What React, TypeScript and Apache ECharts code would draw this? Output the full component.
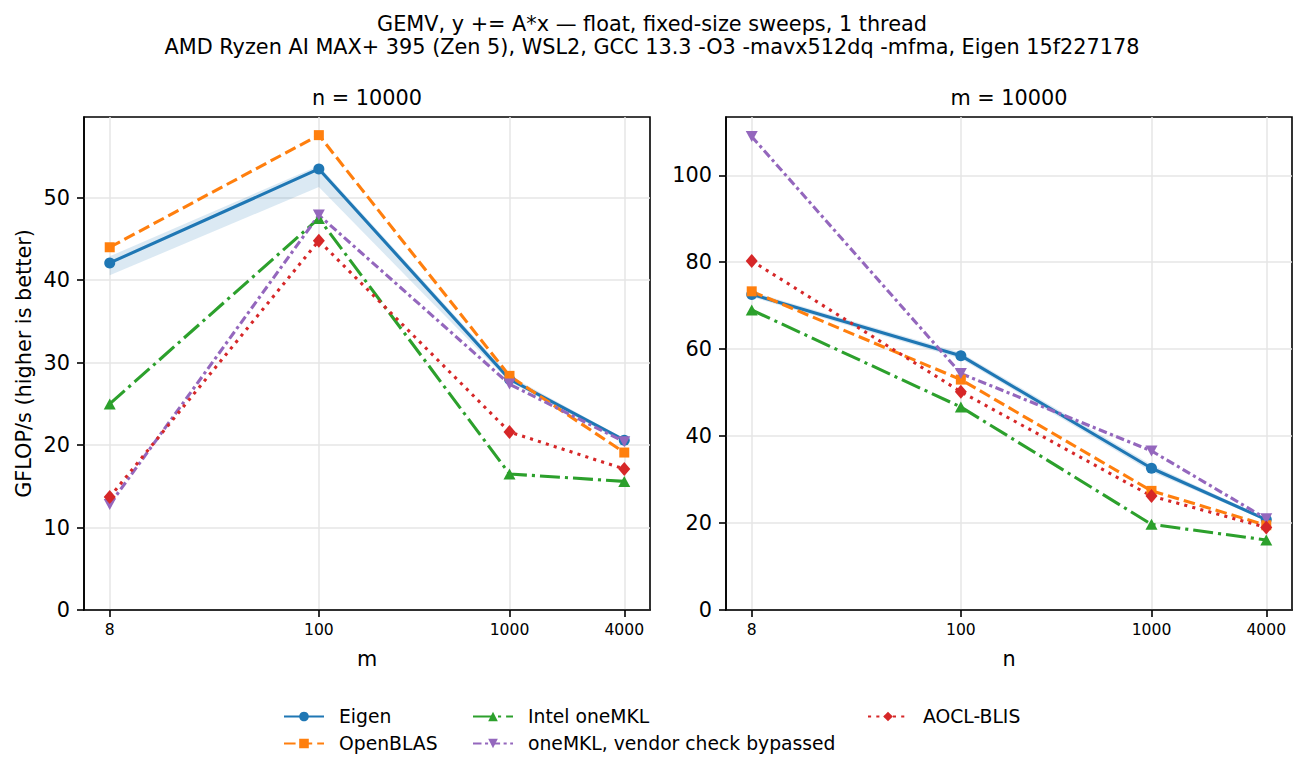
import React, { useEffect, useRef } from "react";
import * as echarts from "echarts";

// ---------- data ----------
const sizes = [8, 100, 1000, 4000];
const xTicks = [8, 100, 1000, 4000];
const seriesNames = [
  "Eigen",
  "OpenBLAS",
  "Intel oneMKL",
  "oneMKL, vendor check bypassed",
  "AOCL-BLIS",
];

// left panel: n = 10000, sweep over m
const eigenL = [42.1, 53.5, 28.0, 20.6];
const openblasL = [44.0, 57.6, 28.4, 19.1];
const mklL = [25.0, 47.5, 16.5, 15.6];
const mklBypassL = [12.8, 47.9, 27.4, 20.4];
const aoclL = [13.7, 44.8, 21.6, 17.1];
const eigenLoL = [40.6, 51.3, 27.7, 20.3];
const eigenHiL = [42.9, 53.9, 28.4, 20.8];

// right panel: m = 10000, sweep over n
const eigenR = [72.6, 58.5, 32.6, 20.8];
const openblasR = [73.3, 53.0, 27.4, 19.5];
const mklR = [69.0, 46.7, 19.7, 16.1];
const mklBypassR = [108.9, 54.4, 36.6, 21.0];
const aoclR = [80.3, 50.2, 26.2, 19.0];
const eigenLoR = [72.0, 57.8, 31.8, 20.5];
const eigenHiR = [73.2, 59.2, 33.4, 21.1];

const yTicksL = [0, 10, 20, 30, 40, 50];
const yTicksR = [0, 20, 40, 60, 80, 100];

const titleLine1 = "GEMV, y += A*x — float, fixed-size sweeps, 1 thread";
const titleLine2 =
  "AMD Ryzen AI MAX+ 395 (Zen 5), WSL2, GCC 13.3 -O3 -mavx512dq -mfma, Eigen 15f227178";

// ---------- styling ----------
const FONT = "DejaVu Sans";
const styles: any[] = [
  { color: "#1f77b4", symbol: "circle", size: 11, type: "solid", rotate: 0 },
  { color: "#ff7f0e", symbol: "rect", size: 10, type: [11.6, 5], rotate: 0 },
  { color: "#2ca02c", symbol: "triangle", size: [12, 11], type: [20, 5, 3.1, 5], rotate: 0 },
  { color: "#9467bd", symbol: "triangle", size: [12, 11], type: [8.5, 3.5, 3.1, 3.5], rotate: 180 },
  { color: "#d62728", symbol: "diamond", size: [12, 14], type: [3.1, 5.2], rotate: 0 },
];

const LW = 3.1;
const xMin = 8 / Math.pow(10, 0.05 * Math.log10(4000 / 8));
const xMax = 4000 * Math.pow(10, 0.05 * Math.log10(4000 / 8));

function buildOption() {
  const leftData = [eigenL, openblasL, mklL, mklBypassL, aoclL];
  const rightData = [eigenR, openblasR, mklR, mklBypassR, aoclR];

  const xAxisCfg = (gridIndex: number, name: string) => ({
    type: "log",
    logBase: 10,
    gridIndex,
    min: xMin,
    max: xMax,
    name,
    nameLocation: "middle",
    nameGap: 38,
    nameTextStyle: { fontFamily: FONT, fontSize: 20.8, color: "#000" },
    axisLine: { show: true, onZero: false, lineStyle: { color: "#000", width: 1.6 } },
    axisTick: { show: true, length: 7, lineStyle: { color: "#000", width: 1.6 }, customValues: xTicks },
    axisLabel: {
      customValues: xTicks,
      margin: 12,
      fontFamily: FONT,
      fontSize: 15.6,
      color: "#000",
      formatter: (v: number) => String(Math.round(v)),
    },
    minorTick: { show: false },
    minorSplitLine: { show: false },
    splitLine: { show: true, lineStyle: { color: "#e6e6e6", width: 1.5 } },
  });

  const yAxisCfg = (gridIndex: number, max: number, interval: number, ticks: number[], name?: string) => ({
    type: "value",
    gridIndex,
    min: 0,
    max,
    interval,
    name: name || "",
    nameLocation: "middle",
    nameGap: 50,
    nameTextStyle: { fontFamily: FONT, fontSize: 20.8, color: "#000" },
    axisLine: { show: true, lineStyle: { color: "#000", width: 1.6 } },
    axisTick: { show: true, length: 7, lineStyle: { color: "#000", width: 1.6 }, customValues: ticks },
    axisLabel: { customValues: ticks, margin: 14, fontFamily: FONT, fontSize: 20.8, color: "#000" },
    splitLine: { show: true, lineStyle: { color: "#e6e6e6", width: 1.5 } },
  });

  const series: any[] = [];
  const addBand = (idx: number, lo: number[], hi: number[]) => {
    series.push({
      type: "custom",
      name: "_band" + idx,
      xAxisIndex: idx,
      yAxisIndex: idx,
      silent: true,
      z: 1,
      data: sizes.map((s, i) => [s, lo[i], hi[i]]),
      encode: { x: 0, y: [1, 2] },
      renderItem: (params: any, api: any) => {
        if (params.dataIndex !== 0) return null;
        const upper = sizes.map((s, i) => api.coord([s, hi[i]]));
        const lower = sizes.map((s, i) => api.coord([s, lo[i]])).reverse();
        return {
          type: "polygon",
          shape: { points: upper.concat(lower) },
          style: { fill: "rgba(31,119,180,0.16)", stroke: "none" },
        };
      },
    });
  };
  addBand(0, eigenLoL, eigenHiL);
  addBand(1, eigenLoR, eigenHiR);

  const addLines = (idx: number, arrs: number[][]) => {
    arrs.forEach((vals, k) => {
      const st = styles[k];
      series.push({
        type: "line",
        name: seriesNames[k],
        xAxisIndex: idx,
        yAxisIndex: idx,
        data: sizes.map((s, i) => [s, vals[i]]),
        symbol: st.symbol,
        symbolSize: st.size,
        symbolRotate: st.rotate,
        showSymbol: true,
        showAllSymbol: true,
        lineStyle: { color: st.color, width: LW, type: st.type },
        itemStyle: { color: st.color },
        z: 3,
      });
    });
  };
  addLines(0, leftData);
  addLines(1, rightData);

  const legendBase = {
    orient: "vertical",
    top: 706.5,
    padding: 0,
    itemWidth: 40,
    itemHeight: 12,
    itemGap: 7,
    selectedMode: false,
    textStyle: { fontFamily: FONT, fontSize: 18.75, color: "#000", lineHeight: 20, padding: [0, 0, 0, 10] },
  };

  return {
    animation: false,
    backgroundColor: "#fff",
    title: {
      text: titleLine1 + "\n" + titleLine2,
      left: "center",
      top: 12.5,
      padding: 0,
      textStyle: { fontFamily: FONT, fontSize: 20.8, fontWeight: "normal", color: "#000", lineHeight: 23 },
    },
    graphic: [
      {
        type: "text",
        x: 367,
        y: 98,
        style: { text: "n = 10000", font: `20.8px '${FONT}'`, fill: "#000", textAlign: "center", textVerticalAlign: "middle" },
      },
      {
        type: "text",
        x: 1009,
        y: 98,
        style: { text: "m = 10000", font: `20.8px '${FONT}'`, fill: "#000", textAlign: "center", textVerticalAlign: "middle" },
      },
    ],
    legend: [
      { ...legendBase, left: 283, data: [seriesNames[0], seriesNames[1]] },
      { ...legendBase, left: 472, data: [seriesNames[2], seriesNames[3]] },
      { ...legendBase, left: 867, data: [seriesNames[4]] },
    ],
    grid: [
      { left: 84, top: 117, width: 566, height: 493, show: true, borderColor: "#000", borderWidth: 1.6, backgroundColor: "transparent" },
      { left: 726, top: 117, width: 566, height: 493, show: true, borderColor: "#000", borderWidth: 1.6, backgroundColor: "transparent" },
    ],
    xAxis: [xAxisCfg(0, "m"), xAxisCfg(1, "n")],
    yAxis: [
      yAxisCfg(0, 59.8, 10, yTicksL, "GFLOP/s (higher is better)"),
      yAxisCfg(1, 113.4, 20, yTicksR),
    ],
    series,
  };
}

export default function App() {
  const ref = useRef<HTMLDivElement>(null);
  useEffect(() => {
    if (!ref.current) return;
    const chart = echarts.init(ref.current, undefined, { renderer: "svg" });
    chart.setOption(buildOption() as any);
    return () => chart.dispose();
  }, []);
  return (
    <div
      ref={ref}
      style={{ position: "absolute", left: 0, top: 0, width: 1304, height: 777, background: "#fff" }}
    />
  );
}
